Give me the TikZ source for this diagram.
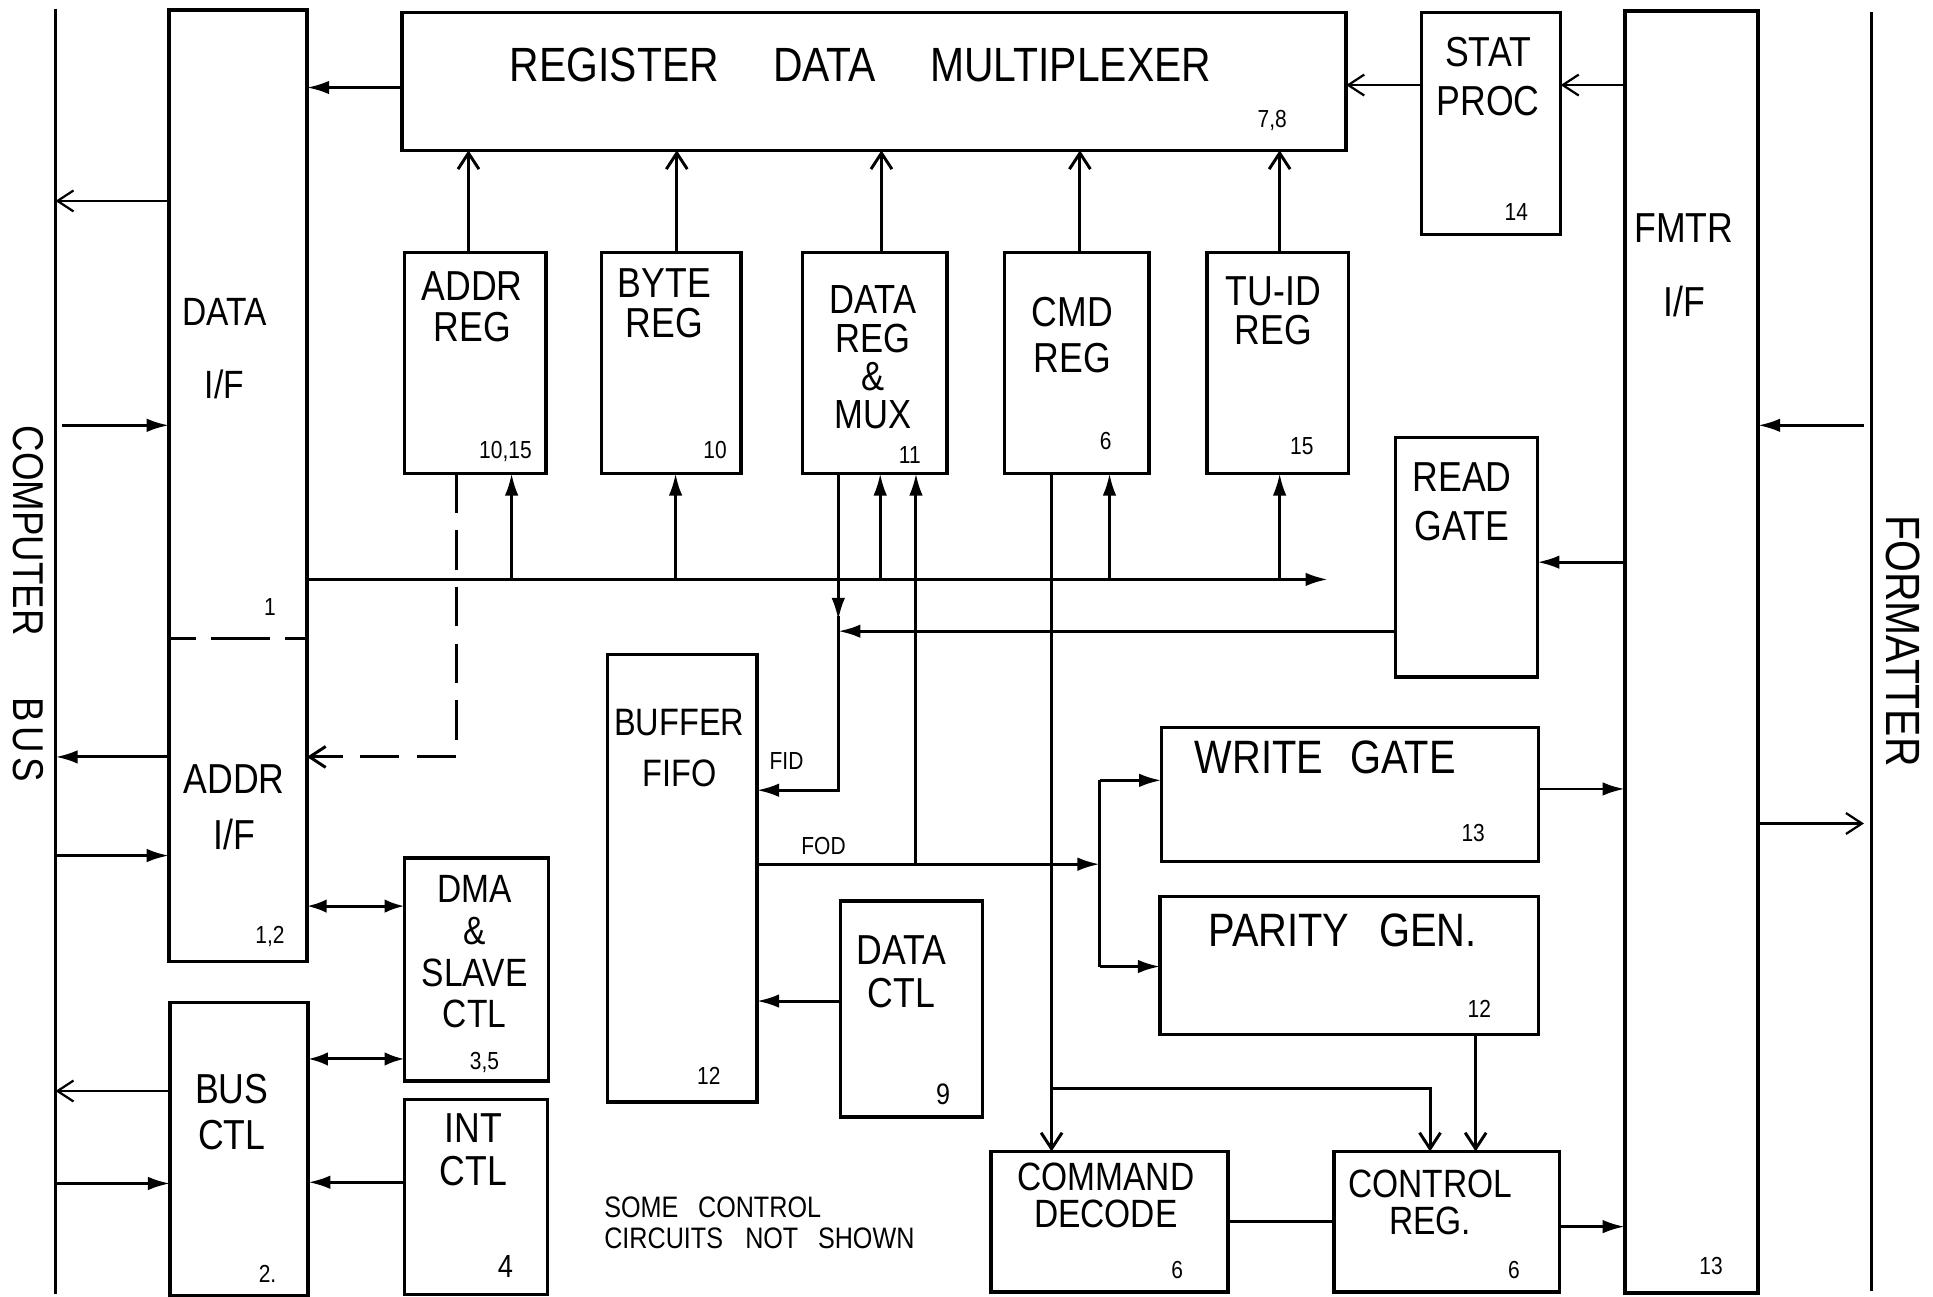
\documentclass[tikz,border=0pt]{standalone}
\usepackage{fontspec}
\setmainfont{Liberation Sans}[FakeStretch=0.85]
\usetikzlibrary{arrows.meta,calc}
\newcommand\fsz[2]{\fontsize{#1}{#2}\selectfont}
\begin{document}
\begin{tikzpicture}[x=1pt,y=-1pt,
  box/.style={draw, line width=2.8pt, inner sep=0pt, outer sep=0pt},
  ln/.style={line width=2.4pt},
  thin/.style={line width=1.8pt},
  fa/.style={ln, -{Latex[length=18pt,width=11pt]}},
  oa/.style={ln, -{Straight Barb[length=13pt,width=17pt]}},
  toa/.style={thin, -{Straight Barb[length=13pt,width=17pt]}},
  dba/.style={ln, {Latex[length=16pt,width=11pt]}-{Latex[length=16pt,width=11pt]}},
  dsh/.style={ln, dash pattern=on 32pt off 14pt},
  t/.style={inner sep=0pt, align=center, font=\fsz{34}{33}},
  num/.style={inner sep=0pt, font=\fsz{20}{22}},
]
\fill[white] (0,0) rectangle (1568,1052);
\useasboundingbox (0,0) rectangle (1568,1052);

% outer buses
\coordinate (cbtop) at (45,7);
\coordinate (cbbot) at (45,1050);
\coordinate (fbtop) at (1518,10);
\coordinate (fbbot) at (1518,1047);
\draw[box] (cbtop) -- (cbbot);
\draw[box] (fbtop) -- (fbbot);
\node[t, rotate=-90, font=\fsz{35}{36}] (cblab) at (23,490) {COMPUTER\hspace{50pt}B\hspace{4pt}U\hspace{4pt}S};
\node[t, rotate=-90, font=\fsz{39}{39}] (fblab) at (1544,520) {FORMATTER};

% boxes
\node[box, minimum width=112pt, minimum height=772pt] (ifbox) at (193,394) {};
\node[box, minimum width=766pt, minimum height=112pt] (mux) at (709,66) {};
\node[box, minimum width=115pt, minimum height=179pt] (addrreg) at (385.5,294.5) {};
\node[box, minimum width=113pt, minimum height=179pt] (bytereg) at (544.5,294.5) {};
\node[box, minimum width=117pt, minimum height=179pt] (datareg) at (709.5,294.5) {};
\node[box, minimum width=117pt, minimum height=179pt] (cmdreg) at (873.5,294.5) {};
\node[box, minimum width=115pt, minimum height=179pt] (tuid) at (1036.5,294.5) {};
\node[box, minimum width=113pt, minimum height=180pt] (stat) at (1209.5,100) {};
\node[box, minimum width=108pt, minimum height=1040pt] (fmtr) at (1372,529) {};
\node[box, minimum width=115pt, minimum height=194pt] (readgate) at (1189.5,452) {};
\node[box, minimum width=121pt, minimum height=363pt] (buffer) at (553.5,712.5) {};
\node[box, minimum width=306pt, minimum height=109pt] (write) at (1095,644.5) {};
\node[box, minimum width=307pt, minimum height=112pt] (parity) at (1094.5,783) {};
\node[box, minimum width=192pt, minimum height=114pt] (cmddec) at (900,991) {};
\node[box, minimum width=183pt, minimum height=114pt] (ctrlreg) at (1173.5,991) {};
\node[box, minimum width=117pt, minimum height=181pt] (dma) at (386.5,786.5) {};
\node[box, minimum width=112pt, minimum height=238pt] (busctl) at (194,932) {};
\node[box, minimum width=116pt, minimum height=158pt] (intctl) at (386,971) {};
\node[box, minimum width=115pt, minimum height=175pt] (datactl) at (739.5,818.5) {};

% dashed divider of the interface box
\draw[ln, dash pattern=on 22pt off 12pt on 48pt off 12pt on 20pt off 0pt] (ifbox.west |- 0,518) -- (ifbox.east |- 0,518);

% labels
\node[t, font=\fsz{39}{39}] (muxl) at (698,53) {REGISTER\hspace{44pt}DATA\hspace{44pt}MULTIPLEXER};
\node[num] (muxn) at (1032,98) {7,8};
\node[t, font=\fsz{32}{59}] (dataifl) at (182,283) {DATA\\I/F};
\node[num] (dataifn) at (219,492) {1};
\node[t, font=\fsz{34}{45}] (addrifl) at (190,655) {ADDR\\I/F};
\node[num] (addrifn) at (219,760) {1,2};
\node[t] (addrregl) at (383,249) {ADDR\\REG};
\node[num] (addrregn) at (410,366) {10,15};
\node[t] (byteregl) at (539,246) {BYTE\\REG};
\node[num] (byteregn) at (580,365) {10};
\node[t, font=\fsz{33}{31}] (dataregl) at (708,290) {DATA\\REG\\\&\\MUX};
\node[num] (dataregn) at (738,369) {11};
\node[t, font=\fsz{34}{37}] (cmdregl) at (870,272) {CMD\\REG};
\node[num] (cmdregn) at (897,358) {6};
\node[t, font=\fsz{34}{32}] (tuidl) at (1033,252) {TU-ID\\REG};
\node[num] (tuidn) at (1056,362) {15};
\node[t, font=\fsz{34}{40}] (statl) at (1207,62) {STAT\\PROC};
\node[num] (statn) at (1230,172) {14};
\node[t, font=\fsz{34}{60}] (fmtrl) at (1366,215) {FMTR\\I/F};
\node[num] (fmtrn) at (1388,1027) {13};
\node[t, font=\fsz{34}{40}] (readl) at (1186,407) {READ\\GATE};
\node[t, font=\fsz{31}{41}] (bufl) at (551,607) {BUFFER\\FIFO};
\node[num] (bufn) at (575,873) {12};
\node[num] (fid) at (638,617) {FID};
\node[num] (fod) at (668,686) {FOD};
\node[t, font=\fsz{38}{38}] (writel) at (1075,614) {WRITE\hspace{22pt}GATE};
\node[num] (writen) at (1195,676) {13};
\node[t, font=\fsz{38}{38}] (parityl) at (1089,755) {PARITY\hspace{24pt}GEN.};
\node[num] (parityn) at (1200,818) {12};
\node[t, font=\fsz{32}{30}] (cmddecl) at (897,970) {COMMAND\\DECODE};
\node[num] (cmddecn) at (955,1030) {6};
\node[t, font=\fsz{32}{30}] (ctrlregl) at (1160,975) {CONTROL\\REG.};
\node[num] (ctrlregn) at (1228,1030) {6};
\node[t, font=\fsz{32}{34}] (dmal) at (385,772) {DMA\\\&\\SLAVE\\CTL};
\node[num] (daman) at (393,862) {3,5};
\node[t, font=\fsz{34}{37}] (busctll) at (188,902) {BUS\\CTL};
\node[num] (busctln) at (217,1033) {2.};
\node[t, font=\fsz{34}{35}] (intctll) at (384,933) {INT\\CTL};
\node[num, font=\fsz{26}{26}] (intctln) at (410,1027) {4};
\node[t, font=\fsz{34}{35}] (datactll) at (731,788) {DATA\\CTL};
\node[num, font=\fsz{24}{24}] (datactln) at (765,888) {9};
\node[inner sep=0pt, align=left, anchor=west, font=\fsz{24}{25}] (note) at (490,992) {SOME\hspace{16pt}CONTROL\\CIRCUITS\hspace{18pt}NOT\hspace{16pt}SHOWN};

% coordinates for junctions
\coordinate (busend) at (1077,470);
\coordinate (fidc) at (680,641);
\coordinate (split) at (892,701);
\coordinate (cmdbr) at (853,883);

% register outputs into the multiplexer
\draw[oa] (addrreg.north -| 380,0) -- (mux.south -| 380,0);
\draw[oa] (bytereg.north -| 549,0) -- (mux.south -| 549,0);
\draw[oa] (datareg.north -| 715,0) -- (mux.south -| 715,0);
\draw[oa] (cmdreg.north -| 876,0) -- (mux.south -| 876,0);
\draw[oa] (tuid.north -| 1038,0) -- (mux.south -| 1038,0);

% multiplexer / status
\draw[fa] (mux.west |- 0,71) -- (ifbox.east |- 0,71);
\draw[toa] (stat.west |- 0,69) -- (mux.east |- 0,69);
\draw[toa] (fmtr.west |- 0,69) -- (stat.east |- 0,69);

% computer bus side
\draw[toa] (ifbox.west |- 0,163) -- (cbtop |- 0,163);
\draw[fa] ($(cbtop |- 0,345)+(5,0)$) -- (ifbox.west |- 0,345);
\draw[fa] (ifbox.west |- 0,614) -- (cbtop |- 0,614);
\draw[fa] (cbtop |- 0,694) -- (ifbox.west |- 0,694);
\draw[toa] (busctl.west |- 0,885) -- (cbtop |- 0,885);
\draw[fa] (cbtop |- 0,960) -- (busctl.west |- 0,960);

% internal data bus
\draw[fa] (ifbox.east |- busend) -- (busend);
\draw[fa] (busend -| 415,0) -- (addrreg.south -| 415,0);
\draw[fa] (busend -| 548,0) -- (bytereg.south -| 548,0);
\draw[fa] (busend -| 714,0) -- (datareg.south -| 714,0);
\draw[fa] (busend -| 900,0) -- (cmdreg.south -| 900,0);
\draw[fa] (busend -| 1038,0) -- (tuid.south -| 1038,0);

% address register dashed path
\draw[oa, dsh] (addrreg.south -| 370,0) -- (370,614) -- (ifbox.east |- 0,614);

% DMA / bus control
\draw[dba] (ifbox.east |- 0,735) -- (dma.west |- 0,735);
\draw[dba] (busctl.east |- 0,859) -- (dma.west |- 0,859);
\draw[fa] (intctl.west |- 0,959) -- (busctl.east |- 0,959);

% FID path
\draw[fa] (datareg.south -| fidc) -- (fidc |- 0,503);
\draw[fa] (fidc |- 0,500) -- (fidc) -- (buffer.east |- fidc);
\draw[fa] (readgate.west |- 0,512) -- (fidc |- 0,512);
\draw[fa] (fmtr.west |- 0,456) -- (readgate.east |- 0,456);

% FOD path
\draw[fa] (buffer.east |- split) -- (split);
\draw[fa] (split -| 743,0) -- (datareg.south -| 743,0);
\draw[ln] (split |- 0,633) -- (split |- 0,784);
\draw[fa] (split |- 0,633) -- (write.west |- 0,633);
\draw[fa] (split |- 0,784) -- (parity.west |- 0,784);
\draw[fa] (write.east |- 0,640) -- (fmtr.west |- 0,640);
\draw[fa] (datactl.west |- 0,812) -- (buffer.east |- 0,812);

% command path
\draw[oa] (cmdreg.south -| cmdbr) -- (cmddec.north -| cmdbr);
\draw[oa] (cmdbr) -| (ctrlreg.north -| 1160,0);
\draw[oa] (parity.south -| 1197,0) -- (ctrlreg.north -| 1197,0);
\draw[ln] (cmddec.east |- 0,991) -- (ctrlreg.west |- 0,991);
\draw[fa] (ctrlreg.east |- 0,995) -- (fmtr.west |- 0,995);

% formatter side
\draw[fa] ($(fbtop |- 0,345)+(-6,0)$) -- (fmtr.east |- 0,345);
\draw[toa] (fmtr.east |- 0,668) -- ($(fbtop |- 0,668)+(-6,0)$);
\end{tikzpicture}
\end{document}
